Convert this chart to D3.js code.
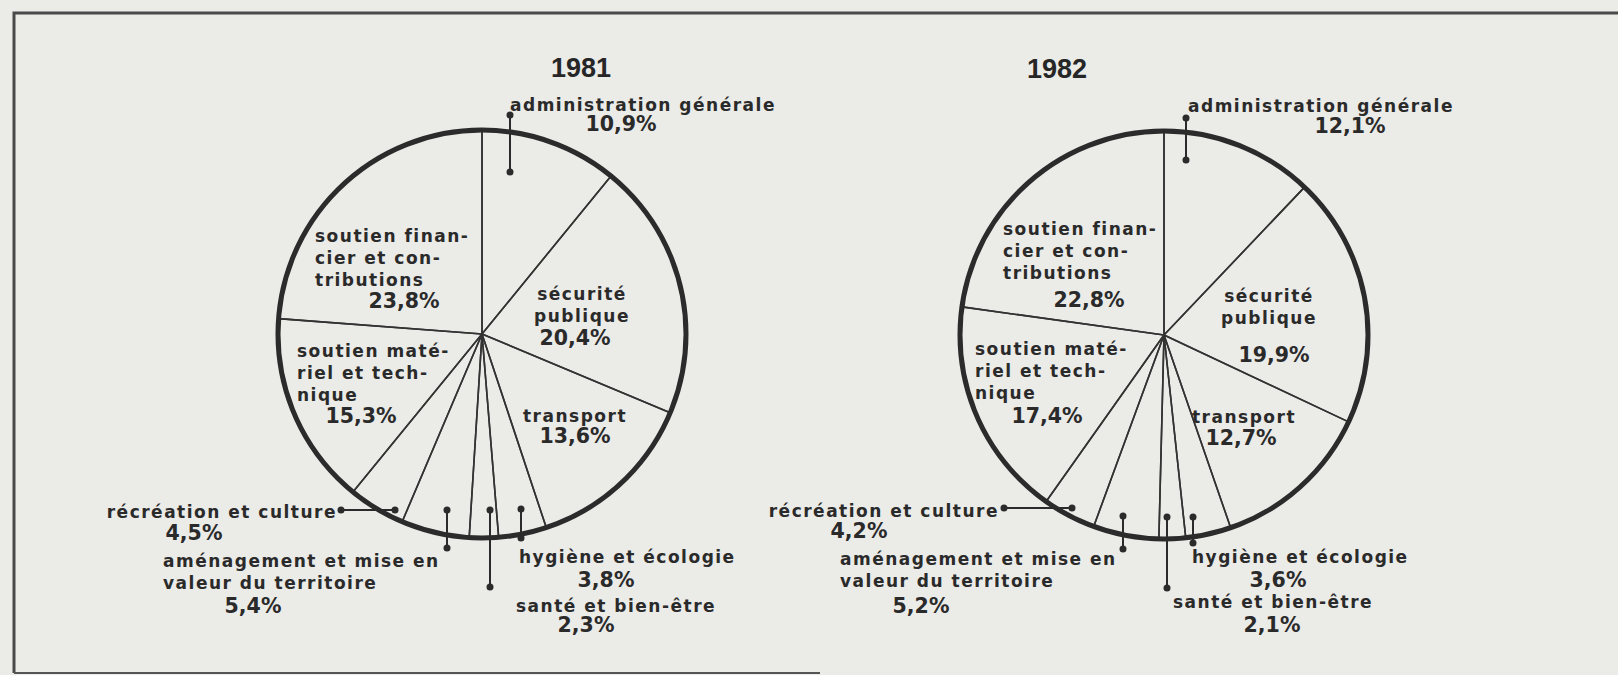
<!DOCTYPE html>
<html>
<head>
<meta charset="utf-8">
<script src="https://cdn.jsdelivr.net/npm/d3@7"></script>
<style>
  html, body { margin: 0; padding: 0; background: #ebebe8; }
  svg { display: block; }
  .lbl { font-family: "DejaVu Sans", sans-serif; font-weight: bold; font-size: 17px; letter-spacing: 1.5px; fill: #2a2a2a; }
  .pct { font-family: "DejaVu Sans", sans-serif; font-weight: bold; font-size: 20.5px; fill: #2a2a2a; }
  .year { font-family: "Liberation Sans", sans-serif; font-weight: bold; font-size: 27px; fill: #262626; }
</style>
</head>
<body>
<svg id="chart"></svg>
<script>
// categories, clockwise from 12 o'clock
const categories = [
  'administration générale',
  'sécurité publique',
  'transport',
  'hygiène et écologie',
  'santé et bien-être',
  'aménagement et mise en valeur du territoire',
  'récréation et culture',
  'soutien matériel et technique',
  'soutien financier et contributions'
];
const labelLines = [
  ['administration générale'],
  ['sécurité', 'publique'],
  ['transport'],
  ['hygiène et écologie'],
  ['santé et bien-être'],
  ['aménagement et mise en', 'valeur du territoire'],
  ['récréation et culture'],
  ['soutien maté-', 'riel et tech-', 'nique'],
  ['soutien finan-', 'cier et con-', 'tributions']
];
const years = ['1981', '1982'];
const values1981 = [10.9, 20.4, 13.6, 3.8, 2.3, 5.4, 4.5, 15.3, 23.8];
const values1982 = [12.1, 19.9, 12.7, 3.6, 2.1, 5.2, 4.2, 17.4, 22.8];

// layout (pixel positions) for each pie and its labels
const width = 1618, height = 675;
const radius = 204;
const layout1981 = {
  cx: 482, cy: 334, titleX: 581, titleY: 77,
  labels: [
    {x: 510, y: 111, anchor: 'start', px: 621, py: 131, leader: [510, 115, 510, 172]},
    {x: 582, y: 300, anchor: 'middle', px: 575, py: 345},
    {x: 575, y: 422, anchor: 'middle', px: 575, py: 443},
    {x: 519, y: 563, anchor: 'start', px: 606, py: 587, leader: [521, 509, 521, 538]},
    {x: 516, y: 612, anchor: 'start', px: 586, py: 632, leader: [490, 510, 490, 587]},
    {x: 163, y: 567, anchor: 'start', px: 253, py: 613, leader: [447, 510, 447, 548]},
    {x: 337, y: 518, anchor: 'end', px: 194, py: 540, leader: [341, 510, 395, 510]},
    {x: 297, y: 357, anchor: 'start', px: 361, py: 423},
    {x: 315, y: 242, anchor: 'start', px: 404, py: 308}
  ]
};
const layout1982 = {
  cx: 1164, cy: 335, titleX: 1057, titleY: 78,
  labels: [
    {x: 1188, y: 112, anchor: 'start', px: 1350, py: 133, leader: [1186, 118, 1186, 160]},
    {x: 1269, y: 302, anchor: 'middle', px: 1274, py: 362},
    {x: 1244, y: 423, anchor: 'middle', px: 1241, py: 445},
    {x: 1192, y: 563, anchor: 'start', px: 1278, py: 587, leader: [1193, 517, 1193, 543]},
    {x: 1173, y: 608, anchor: 'start', px: 1272, py: 632, leader: [1167, 517, 1167, 588]},
    {x: 840, y: 565, anchor: 'start', px: 921, py: 613, leader: [1123, 516, 1123, 549]},
    {x: 999, y: 517, anchor: 'end', px: 859, py: 538, leader: [1004, 508, 1072, 508]},
    {x: 975, y: 355, anchor: 'start', px: 1047, py: 423},
    {x: 1003, y: 235, anchor: 'start', px: 1089, py: 307}
  ]
};

const lineGap = 22;
const fmt = v => d3.format('.1f')(v).replace('.', ',') + '%';

const svg = d3.select('#chart')
  .attr('width', width)
  .attr('height', height);

// frame of the scanned page
svg.append('path')
  .attr('d', 'M14,673 L14,13 L' + width + ',13')
  .attr('fill', 'none')
  .attr('stroke', '#4a4a4a')
  .attr('stroke-width', 3);
svg.append('line')
  .attr('x1', 14).attr('y1', 673).attr('x2', 820).attr('y2', 673)
  .attr('stroke', '#555')
  .attr('stroke-width', 2);

const pie = d3.pie().sort(null).value(d => d);
const arc = d3.arc().innerRadius(0).outerRadius(radius);

function drawPie(year, values, lay) {
  const g = svg.append('g');

  g.append('text')
    .attr('class', 'year')
    .attr('x', lay.titleX)
    .attr('y', lay.titleY)
    .attr('text-anchor', 'middle')
    .text(year);

  const pg = g.append('g')
    .attr('transform', 'translate(' + lay.cx + ',' + lay.cy + ')');

  pg.selectAll('path.slice')
    .data(pie(values))
    .enter().append('path')
      .attr('class', 'slice')
      .attr('d', arc)
      .attr('fill', 'none')
      .attr('stroke', '#333')
      .attr('stroke-width', 1.6)
      .attr('stroke-linejoin', 'round');

  pg.append('circle')
    .attr('r', radius)
    .attr('fill', 'none')
    .attr('stroke', '#2b2b2b')
    .attr('stroke-width', 5);

  // leader lines with dots
  const leaders = lay.labels.filter(l => l.leader);
  g.selectAll('line.leader')
    .data(leaders)
    .enter().append('line')
      .attr('class', 'leader')
      .attr('x1', d => d.leader[0]).attr('y1', d => d.leader[1])
      .attr('x2', d => d.leader[2]).attr('y2', d => d.leader[3])
      .attr('stroke', '#2b2b2b')
      .attr('stroke-width', 2);
  leaders.forEach(d => {
    [[d.leader[0], d.leader[1]], [d.leader[2], d.leader[3]]].forEach(p => {
      g.append('circle')
        .attr('cx', p[0]).attr('cy', p[1]).attr('r', 3.5)
        .attr('fill', '#2b2b2b');
    });
  });

  // category labels
  categories.forEach((c, i) => {
    const l = lay.labels[i];
    const t = g.append('text')
      .attr('class', 'lbl')
      .attr('text-anchor', l.anchor);
    labelLines[i].forEach((line, j) => {
      t.append('tspan')
        .attr('x', l.x)
        .attr('y', l.y + j * lineGap)
        .text(line);
    });
    g.append('text')
      .attr('class', 'pct')
      .attr('x', l.px)
      .attr('y', l.py)
      .attr('text-anchor', 'middle')
      .text(fmt(values[i]));
  });
}

drawPie(years[0], values1981, layout1981);
drawPie(years[1], values1982, layout1982);
</script>
</body>
</html>
